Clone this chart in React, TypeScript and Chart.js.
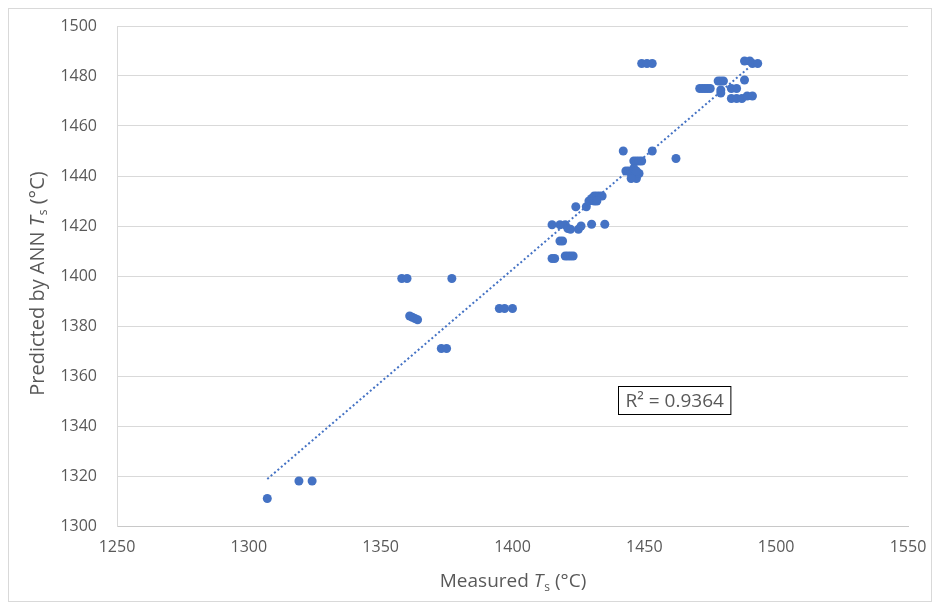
import React, { useEffect, useRef } from "react";
import { Chart, registerables } from "chart.js";

Chart.register(...registerables);

// Measured Ts (°C)
const measured = [
  1307, 1319, 1324,
  1358, 1360, 1377,
  1361, 1362, 1363, 1364,
  1373, 1375,
  1395, 1397, 1400,
  1415, 1416, 1420, 1421, 1422, 1423,
  1418, 1419,
  1415, 1418, 1420, 1421, 1422, 1425, 1426, 1430, 1435,
  1424, 1428,
  1429, 1430, 1431, 1432, 1433, 1434, 1431, 1432,
  1442, 1453, 1462,
  1446, 1447, 1448, 1449,
  1443, 1444, 1445, 1446, 1447, 1448, 1446, 1447, 1445,
  1449, 1451, 1453,
  1488, 1490, 1491, 1493,
  1488, 1478, 1479, 1480,
  1471, 1472, 1473, 1474, 1475,
  1479, 1479, 1483, 1485,
  1483, 1485, 1487, 1489, 1491,
];

// Predicted by ANN Ts (°C)
const predicted = [
  1311, 1318, 1318,
  1399, 1399, 1399,
  1384, 1383.5, 1383, 1382.5,
  1371, 1371,
  1387, 1387, 1387,
  1407, 1407, 1408, 1408, 1408, 1408,
  1414, 1414,
  1420.5, 1420.5, 1420.5, 1419, 1418.7, 1418.7, 1420, 1420.7, 1420.7,
  1427.7, 1427.7,
  1430, 1431, 1432, 1432, 1432, 1432, 1430, 1430,
  1450, 1450, 1447,
  1446, 1446, 1446, 1446,
  1442, 1442, 1441, 1440, 1439, 1441, 1443, 1442, 1439,
  1485, 1485, 1485,
  1486, 1486, 1485, 1485,
  1478.4, 1478, 1478, 1478,
  1475, 1475, 1475, 1475, 1475,
  1474.4, 1473.2, 1475, 1475,
  1471, 1471, 1471, 1472, 1472,
];

// Linear trendline end points
const trendMeasured = [1307, 1490];
const trendPredicted = [1318.8, 1483.7];

const xAxisRange = [1250, 1550, 50];
const yAxisRange = [1300, 1500, 20];

const xTitleParts = ["Measured ", "T", "s", " (°C)"];
const yTitleParts = ["Predicted by ANN ", "T", "s", " (°C)"];
const r2Label = "R² = 0.9364";
const r2Anchor = [1440, 1356];

const FONT = '"Open Sans", sans-serif';
const TEXT = "#595959";
const BLUE = "#4472C4";

function drawRich(ctx: CanvasRenderingContext2D, parts: string[], size: number) {
  const fonts = [
    `${size}px ${FONT}`,
    `italic ${size}px ${FONT}`,
    `${Math.round(size * 0.62)}px ${FONT}`,
    `${size}px ${FONT}`,
  ];
  const widths = parts.map((p, i) => {
    ctx.font = fonts[i];
    return ctx.measureText(p).width;
  });
  const total = widths.reduce((a, b) => a + b, 0);
  let x = -total / 2;
  ctx.textBaseline = "middle";
  ctx.textAlign = "left";
  ctx.fillStyle = TEXT;
  parts.forEach((p, i) => {
    ctx.font = fonts[i];
    const dy = i === 2 ? size * 0.3 : 0;
    ctx.fillText(p, x, dy);
    x += widths[i] + (i === 1 ? 1 : 0);
  });
}

const decorPlugin = {
  id: "decor",
  afterDraw(chart: any) {
    const ctx: CanvasRenderingContext2D = chart.ctx;
    const { left, right, top, bottom } = chart.chartArea;
    // x title
    ctx.save();
    ctx.translate((left + right) / 2, 573);
    drawRich(ctx, xTitleParts, 19);
    ctx.restore();
    // y title
    ctx.save();
    ctx.translate(29, (top + bottom) / 2 + 8);
    ctx.rotate(-Math.PI / 2);
    drawRich(ctx, yTitleParts, 20);
    ctx.restore();
    // R² box
    const xs = chart.scales.x;
    const ys = chart.scales.y;
    const bx = Math.round(xs.getPixelForValue(r2Anchor[0])) + 0.5;
    const by = Math.round(ys.getPixelForValue(r2Anchor[1])) + 0.5;
    ctx.save();
    ctx.font = `19px ${FONT}`;
    const w = ctx.measureText(r2Label).width + 14;
    const h = 28;
    ctx.fillStyle = "#ffffff";
    ctx.fillRect(bx, by, w, h);
    ctx.strokeStyle = "#000000";
    ctx.lineWidth = 1;
    ctx.strokeRect(bx, by, w, h);
    ctx.fillStyle = TEXT;
    ctx.textBaseline = "middle";
    ctx.textAlign = "left";
    ctx.fillText(r2Label, bx + 7, by + h / 2 + 1);
    ctx.restore();
  },
};

export default function App() {
  const ref = useRef<HTMLCanvasElement>(null);

  useEffect(() => {
    if (!ref.current) return;
    const points = measured.map((m, i) => ({ x: m, y: predicted[i] }));
    const trend = trendMeasured.map((m, i) => ({ x: m, y: trendPredicted[i] }));
    const chart = new Chart(ref.current, {
      type: "scatter",
      data: {
        datasets: [
          {
            label: "Trend",
            data: trend,
            showLine: true,
            borderColor: BLUE,
            borderWidth: 2,
            borderDash: [2, 2.5],
            pointRadius: 0,
            order: 0,
          } as any,
          {
            label: "Data",
            data: points,
            backgroundColor: BLUE,
            borderWidth: 0,
            pointRadius: 4.5,
            order: 1,
          },
        ],
      },
      options: {
        responsive: false,
        animation: false,
        layout: { padding: { top: 17, right: 23, left: 0, bottom: 0 } },
        plugins: {
          legend: { display: false },
          tooltip: { enabled: false },
        },
        scales: {
          x: {
            type: "linear",
            min: xAxisRange[0],
            max: xAxisRange[1],
            ticks: {
              stepSize: xAxisRange[2],
              color: TEXT,
              font: { family: FONT, size: 16 },
              padding: 12,
              maxRotation: 0,
              callback: (v: any) => String(v),
            },
            grid: { display: false, drawTicks: false },
            border: { display: true, color: "#c8c8c8", width: 1 },
            afterFit: (s: any) => {
              s.height = 75;
              s.paddingLeft = 0;
              s.paddingRight = 0;
            },
          },
          y: {
            type: "linear",
            min: yAxisRange[0],
            max: yAxisRange[1],
            ticks: {
              stepSize: yAxisRange[2],
              color: TEXT,
              font: { family: FONT, size: 16 },
              padding: 20,
              callback: (v: any) => String(v),
            },
            grid: { color: "#d9d9d9", drawTicks: false },
            border: { display: true, color: "#d9d9d9", width: 1 },
            afterFit: (s: any) => {
              s.width = 108;
              s.paddingTop = 0;
              s.paddingBottom = 0;
            },
          },
        },
      },
      plugins: [decorPlugin],
    });
    return () => chart.destroy();
  }, []);

  return (
    <div
      style={{
        position: "fixed",
        left: 8,
        top: 8,
        border: "1px solid #d9d9d9",
        width: 922,
        height: 592,
        background: "#fff",
      }}
    >
      <canvas ref={ref} width={922} height={592} style={{ display: "block" }} />
    </div>
  );
}
